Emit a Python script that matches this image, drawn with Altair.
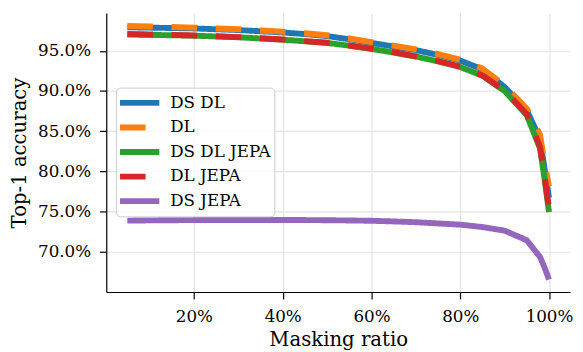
import altair as alt
import pandas as pd

masking = [0.05, 0.10, 0.15, 0.20, 0.25, 0.30, 0.35, 0.40, 0.45, 0.50, 0.55,
           0.60, 0.65, 0.70, 0.75, 0.80, 0.85, 0.90, 0.95, 0.98, 0.99, 1.00]

ds_dl = [97.95, 97.90, 97.85, 97.80, 97.70, 97.60, 97.45, 97.30, 97.10, 96.85, 96.45,
         96.00, 95.55, 95.10, 94.50, 93.80, 92.70, 90.50, 87.60, 84.00, 80.30, 76.70]
dl = [98.10, 98.05, 97.98, 97.90, 97.80, 97.70, 97.55, 97.40, 97.20, 96.95, 96.55,
      96.10, 95.65, 95.20, 94.60, 93.90, 92.80, 90.70, 87.80, 84.50, 81.00, 78.10]
ds_dl_jepa = [97.05, 97.00, 96.95, 96.90, 96.80, 96.70, 96.55, 96.40, 96.20, 96.00, 95.65,
              95.25, 94.80, 94.30, 93.70, 93.00, 91.90, 90.00, 87.00, 82.80, 79.00, 74.90]
dl_jepa = [97.10, 97.05, 97.00, 96.92, 96.82, 96.72, 96.58, 96.42, 96.22, 96.02, 95.68,
           95.28, 94.83, 94.33, 93.72, 93.02, 91.95, 90.05, 87.10, 83.00, 79.30, 75.40]
ds_jepa = [73.85, 73.88, 73.90, 73.92, 73.93, 73.93, 73.93, 73.93, 73.92, 73.90, 73.87,
           73.83, 73.75, 73.65, 73.50, 73.35, 73.05, 72.60, 71.40, 69.30, 68.00, 66.50]

series_names = ["DS DL", "DL", "DS DL JEPA", "DL JEPA", "DS JEPA"]
series_values = [ds_dl, dl, ds_dl_jepa, dl_jepa, ds_jepa]
colors = ["#1f77b4", "#ff7f0e", "#2ca02c", "#d62728", "#9467bd"]
dashes = [[1, 0], [26, 19], [1, 0], [26, 19], [1, 0]]

x_ticks = [0.2, 0.4, 0.6, 0.8, 1.0]
y_ticks = [0.70, 0.75, 0.80, 0.85, 0.90, 0.95]

rows = []
for order, (name, vals) in enumerate(zip(series_names, series_values)):
    for m, v in zip(masking, vals):
        rows.append({"series": name, "order": order, "masking": m, "acc": v / 100.0})
df = pd.DataFrame(rows)

FONT = "DejaVu Serif"
legend = alt.Legend(title=None, orient="none", legendX=10, legendY=76)

chart = alt.Chart(df).mark_line(strokeWidth=6, strokeCap="butt", strokeJoin="round").encode(
    x=alt.X("masking:Q",
            scale=alt.Scale(domain=[0.0025, 1.0475], nice=False, zero=False),
            axis=alt.Axis(values=x_ticks, format=".0%", title="Masking ratio")),
    y=alt.Y("acc:Q",
            scale=alt.Scale(domain=[0.6495, 0.9973], nice=False, zero=False),
            axis=alt.Axis(values=y_ticks, format=".1%", title="Top-1 accuracy")),
    color=alt.Color("series:N",
                    scale=alt.Scale(domain=series_names, range=colors),
                    sort=series_names, legend=legend),
    strokeDash=alt.StrokeDash("series:N",
                              scale=alt.Scale(domain=series_names, range=dashes),
                              sort=series_names, legend=legend),
    detail="series:N",
    order="order:Q",
).properties(
    width=472, height=284,
    autosize=alt.AutoSizeParams(type="none"),
    padding={"left": 100, "top": 2, "right": 5, "bottom": 60},
).configure_view(
    stroke=None
).configure_axis(
    labelFont=FONT, labelFontSize=17, labelColor="#000000",
    titleFont=FONT, titleFontSize=20, titleFontWeight="normal", titleColor="#000000",
    domainColor="#000000", domainWidth=1.2,
    tickColor="#000000", tickWidth=1.2, tickSize=7,
    gridColor="#e3e3e3", gridWidth=1.2,
).configure_axisY(
    labelPadding=9,
    titlePadding=8,
).configure_axisX(
    labelPadding=10,
    titlePadding=5,
).configure_legend(
    symbolType="stroke", symbolSize=1600, symbolStrokeWidth=6, symbolOffset=-2,
    clipHeight=25,
    labelFont=FONT, labelFontSize=17, labelColor="#000000",
    labelOffset=8, rowPadding=0, padding=3,
    strokeColor="#cccccc", fillColor="rgba(255,255,255,0.8)", cornerRadius=4,
)

chart.save("out.html", embed_options={"renderer": "svg", "actions": False})
